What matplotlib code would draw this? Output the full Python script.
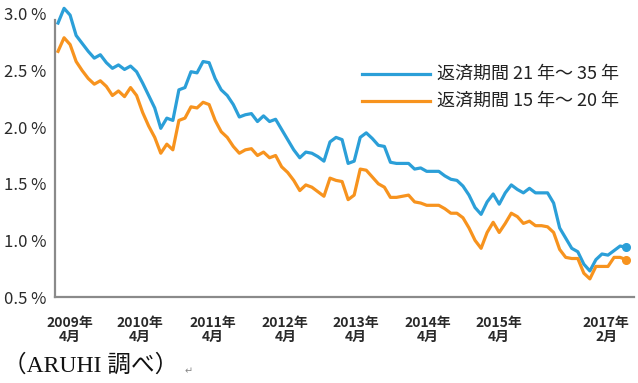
import matplotlib
matplotlib.use("Agg")
import matplotlib.pyplot as plt
import numpy as np

# Monthly rates, 2009-04 .. 2017-02
rate_21_35 = [2.92, 3.05, 2.99, 2.81, 2.74, 2.67, 2.61, 2.64, 2.57, 2.52,
              2.55, 2.51, 2.54, 2.49, 2.39, 2.28, 2.17, 1.99, 2.08, 2.06,
              2.33, 2.35, 2.49, 2.48, 2.58, 2.57, 2.43, 2.33, 2.28, 2.20,
              2.09, 2.11, 2.12, 2.05, 2.10, 2.05, 2.07, 1.98, 1.89, 1.80,
              1.73, 1.78, 1.77, 1.74, 1.70, 1.87, 1.91, 1.89, 1.68, 1.70,
              1.91, 1.95, 1.90, 1.84, 1.83, 1.69, 1.68, 1.68, 1.68, 1.63,
              1.64, 1.61, 1.61, 1.61, 1.57, 1.54, 1.53, 1.48, 1.40, 1.29,
              1.23, 1.34, 1.41, 1.32, 1.42, 1.49, 1.45, 1.42, 1.46, 1.42,
              1.42, 1.42, 1.33, 1.11, 1.02, 0.93, 0.90, 0.79, 0.73, 0.83,
              0.88, 0.87, 0.91, 0.95, 0.94]
rate_15_20 = [2.67, 2.79, 2.73, 2.58, 2.50, 2.43, 2.38, 2.41, 2.36, 2.28,
              2.32, 2.27, 2.35, 2.28, 2.13, 2.01, 1.91, 1.77, 1.85, 1.80,
              2.06, 2.08, 2.18, 2.17, 2.22, 2.20, 2.06, 1.96, 1.91, 1.83,
              1.77, 1.80, 1.81, 1.75, 1.78, 1.73, 1.75, 1.65, 1.60, 1.53,
              1.44, 1.49, 1.47, 1.43, 1.39, 1.55, 1.53, 1.52, 1.36, 1.40,
              1.63, 1.62, 1.56, 1.50, 1.47, 1.38, 1.38, 1.39, 1.40, 1.34,
              1.33, 1.31, 1.31, 1.31, 1.28, 1.24, 1.24, 1.20, 1.11, 1.00,
              0.93, 1.07, 1.16, 1.07, 1.15, 1.24, 1.21, 1.15, 1.17, 1.13,
              1.13, 1.12, 1.07, 0.92, 0.85, 0.84, 0.84, 0.71, 0.66, 0.77,
              0.77, 0.77, 0.85, 0.85, 0.83]
series_names = ["返済期間 21 年～ 35 年", "返済期間 15 年～ 20 年"]
x_labels = ["2009年\n4月", "2010年\n4月", "2011年\n4月", "2012年\n4月",
            "2013年\n4月", "2014年\n4月", "2015年\n4月", "2017年\n2月"]
y_ticks = [0.5, 1.0, 1.5, 2.0, 2.5, 3.0]
source_note = "（ARUHI 調べ）"

# layout (label positions in month-index units)
x_label_pos = [2.0, 13.6, 25.6, 37.6, 49.3, 61.1, 73.0, 90.7]

BLUE = "#2b9fd8"
ORANGE = "#f7931e"
CJK = ["Noto Sans CJK JP", "DejaVu Sans"]
plt.rcParams["font.family"] = CJK

fig = plt.figure(figsize=(6.38, 3.83), dpi=100)
ax = fig.add_axes([55 / 638, (383 - 297) / 383, (634 - 55) / 638, 296.6 / 383])

x = np.arange(len(rate_21_35))
ax.plot(x, rate_21_35, color=BLUE, lw=2.3, solid_joinstyle="round")
ax.plot(x, rate_15_20, color=ORANGE, lw=2.3, solid_joinstyle="round")
ax.plot(x[-1], rate_21_35[-1], "o", color=BLUE, ms=5.5)
ax.plot(x[-1], rate_15_20[-1], "o", color=ORANGE, ms=5.5)

ax.set_xlim(-0.5, 95.3)
ax.set_ylim(0.5, 3.12)

for s in ["top", "right"]:
    ax.spines[s].set_visible(False)
for s in ["left", "bottom"]:
    ax.spines[s].set_color("#8a8a8a")
    ax.spines[s].set_linewidth(1.6)
ax.spines["left"].set_bounds(0.5, 2.95)

ax.set_yticks(y_ticks)
ax.set_yticklabels([f"{v:.1f} %" for v in y_ticks], fontsize=12, color="#2a2a2a")
ax.set_xticks(x_label_pos)
ax.set_xticklabels(x_labels, fontsize=10, fontweight="bold", color="#2a2a2a",
                   linespacing=0.95)
ax.tick_params(axis="both", length=0)
ax.tick_params(axis="y", pad=6)
ax.tick_params(axis="x", pad=14)

# legend
for yy, name, col in [(1 - 74 / 383, series_names[0], BLUE),
                      (1 - 101 / 383, series_names[1], ORANGE)]:
    fig.lines.append(plt.Line2D([362 / 638, 430 / 638], [yy, yy],
                                color=col, lw=2.3, transform=fig.transFigure))
    fig.text(437 / 638, yy, name, fontsize=13, color="#222222", va="center", ha="left")

fig.text(3 / 638, 17 / 383, source_note, fontsize=17, color="#111111",
         family=["Liberation Serif", "Noto Sans CJK JP"], va="center", ha="left")
fig.text(185 / 638, 12 / 383, "↵", fontsize=7, color="#888888",
         family=["DejaVu Sans"], va="center", ha="left")

fig.savefig("out.png", dpi=100, facecolor="white")
